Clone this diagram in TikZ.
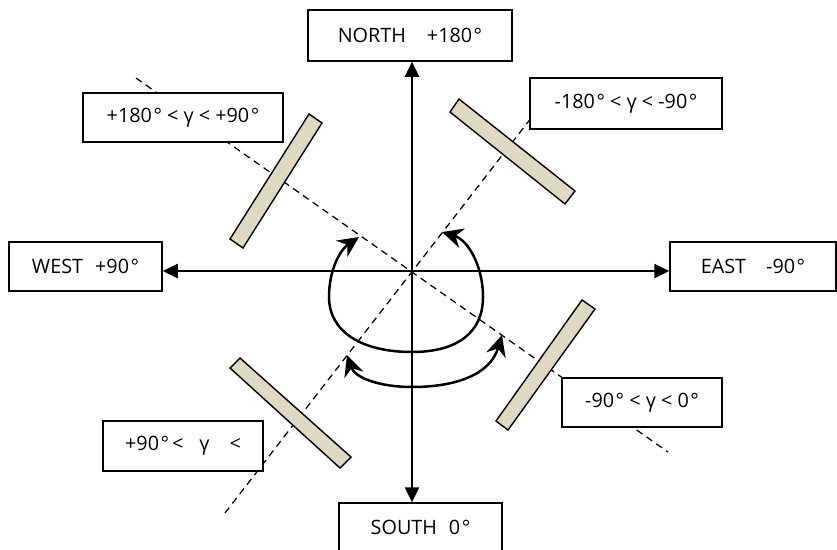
\documentclass[tikz,border=0pt]{standalone}
\usepackage{fontspec}
\setmainfont{Open Sans}
\usetikzlibrary{arrows.meta}
\definecolor{panelfill}{RGB}{221,217,195}
\newcommand{\dg}{\kern1.5pt°}
\begin{document}
\begin{tikzpicture}[x=1pt,y=-1pt,
  box/.style={draw, line width=1.5pt, fill=white, inner sep=0pt, font=\fontsize{19.8}{23}\selectfont},
  axis/.style={line width=2.5pt, {Triangle[length=15pt,width=14pt]}-{Triangle[length=15pt,width=14pt]}},
  turn/.style={line width=2.5pt, {Stealth[length=21pt,width=20pt,inset=7pt]}-{Stealth[length=21pt,width=20pt,inset=7pt]}},
  guide/.style={line width=1.25pt, dash pattern=on 7pt off 5pt},
  panel/.style={draw, line width=1.4pt, fill=panelfill, line join=miter}]
\useasboundingbox (0,0) rectangle (837,549);
\coordinate (C) at (412,271);
% guide lines
\coordinate (A1) at (136,78); \coordinate (A2) at (668,452);
\coordinate (B1) at (225,513); \coordinate (B2) at (545,100);
\draw[guide] (A1) -- (A2);
\draw[guide] (B1) -- (B2);
% panels
\draw[panel] (230,239) -- (243,248) -- (322,123) -- (309,114) -- cycle;
\draw[panel] (450,112) -- (459,99) -- (575,191) -- (565,204) -- cycle;
\draw[panel] (230,368) -- (240,358) -- (351,457) -- (340,468) -- cycle;
\draw[panel] (496,421) -- (508,430) -- (595,309) -- (582,300) -- cycle;
% boxes
\node[box, minimum width=204pt, minimum height=51pt] (N) at (410,35.5) {NORTH\hspace{21pt}+180\dg};
\node[box, minimum width=153pt, minimum height=49pt] (W) at (85.5,266.5) {WEST\hspace{12pt}+90\dg};
\node[box, minimum width=166pt, minimum height=49pt] (E) at (753,266.5) {EAST\hspace{20pt}-90\dg};
\node[box, minimum width=163pt, minimum height=49pt] (S) at (420.5,527.5) {SOUTH\hspace{12pt}0\dg};
\node[box, minimum width=200pt, minimum height=49pt] (TL) at (183,117.5) {+180\dg{} < γ < +90\dg};
\node[box, minimum width=192pt, minimum height=51pt] (TR) at (626,103.5) {-180\dg{} < γ < -90\dg};
\node[box, minimum width=160pt, minimum height=49pt] (BR) at (642,402.5) {-90\dg{} < γ < 0\dg};
\node[box, minimum width=160pt, minimum height=50pt] (BL) at (183,446) {+90\dg\kern3pt<\hspace{16pt}γ\hspace{20pt}<};
% axes
\draw[axis] (C |- S.north) -- (C |- N.south);
\draw[axis] (C -| W.east) -- (C -| E.west);
% rotation arrows
\coordinate (U1) at (359,237); \coordinate (U2) at (442,232);
\coordinate (L1) at (347,355); \coordinate (L2) at (502,335);
\draw[turn] (U1) .. controls (340,250) and (329,270) .. (329,297) .. controls (329,332) and (362,352) .. (412,352) .. controls (458,352) and (483,332) .. (483,297) .. controls (483,266) and (468,240) .. (U2);
\draw[turn] (L1) .. controls (355,378) and (380,387) .. (412,387) .. controls (455,387) and (490,375) .. (L2);
\end{tikzpicture}
\end{document}
